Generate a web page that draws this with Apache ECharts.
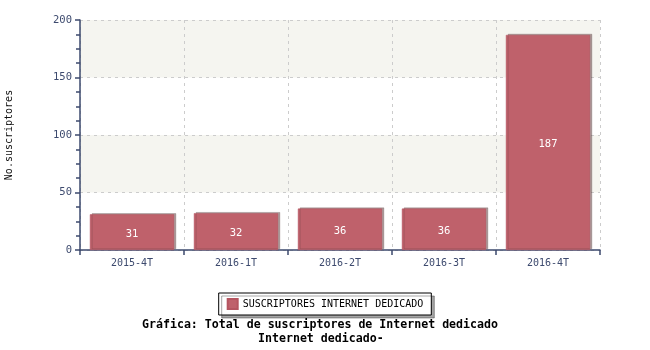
<!DOCTYPE html>
<html><head><meta charset="utf-8">
<script src="https://cdn.jsdelivr.net/npm/echarts@6/dist/echarts.min.js"></script>
<style>html,body{margin:0;padding:0;background:#fff}#c{width:650px;height:350px}</style>
</head><body><div id="c"></div>
<script>
const categories = ['2015-4T','2016-1T','2016-2T','2016-3T','2016-4T'];
const values = [31, 32, 36, 36, 187];
const seriesName = 'SUSCRIPTORES INTERNET DEDICADO';
const yTicks = [0, 50, 100, 150, 200];
const yName = 'No.suscriptores';
const titleLines = ['Gráfica: Total de suscriptores de Internet dedicado', 'Internet dedicado-'];

const axisColor = '#3d4a6e';
const mono = '"DejaVu Sans Mono", monospace';
const chart = echarts.init(document.getElementById('c'), null, {renderer: 'canvas'});
const titleStyle = {fontFamily: mono, fontSize: 11.6, fontWeight: 'bold', color: '#000'};
chart.setOption({
  animation: false,
  grid: {left: 80, right: 50, top: 20, bottom: 100, containLabel: false, outerBoundsMode: 'none'},
  xAxis: {
    type: 'category', data: categories,
    axisLine: {lineStyle: {color: axisColor, width: 1.5}},
    axisTick: {show: true, length: 5, lineStyle: {color: axisColor, width: 1.5}},
    axisLabel: {color: axisColor, fontFamily: mono, fontSize: 10, margin: 8},
    splitLine: {show: true, lineStyle: {color: '#cccccc', type: [3, 4]}}
  },
  yAxis: {
    type: 'value', min: yTicks[0], max: yTicks[yTicks.length - 1], interval: 50,
    name: yName, nameLocation: 'middle', nameGap: 66, nameRotate: 90,
    nameTextStyle: {color: '#111', fontFamily: mono, fontSize: 10},
    axisLine: {show: true, lineStyle: {color: axisColor, width: 1.5}},
    axisTick: {show: true, length: 5, lineStyle: {color: axisColor, width: 1.5}},
    minorTick: {show: true, splitNumber: 4, length: 4, lineStyle: {color: axisColor, width: 1.5}},
    axisLabel: {color: axisColor, fontFamily: mono, fontSize: 10.5, margin: 8},
    splitLine: {show: true, lineStyle: {color: '#cccccc', type: [3, 4]}},
    splitArea: {show: true, areaStyle: {color: ['#ffffff', '#f5f5f0']}}
  },
  legend: {
    data: [seriesName], top: 293, left: 'center',
    itemWidth: 10, itemHeight: 10, itemGap: 5,
    padding: [5, 8, 5, 8],
    borderColor: '#000', borderWidth: 1, backgroundColor: '#fff',
    shadowColor: 'rgba(0,0,0,0.35)', shadowOffsetX: 3, shadowOffsetY: 3, shadowBlur: 0,
    textStyle: {fontFamily: mono, fontSize: 10, color: '#000'},
    icon: 'rect'
  },
  title: [
    {text: titleLines[0], left: 142, top: 319, padding: 0, textStyle: titleStyle},
    {text: titleLines[1], left: 258, top: 333, padding: 0, textStyle: titleStyle}
  ],
  series: [{
    name: seriesName, type: 'bar', data: values, barWidth: '81%',
    itemStyle: {color: '#bf616b', borderColor: '#b55560', borderWidth: 0.5,
      shadowColor: 'rgba(90,60,60,0.5)', shadowOffsetX: 2, shadowOffsetY: -1, shadowBlur: 0},
    label: {show: true, position: 'inside', offset: [0, 2], color: '#fff', fontFamily: mono, fontSize: 10.5}
  }]
});
</script></body></html>
